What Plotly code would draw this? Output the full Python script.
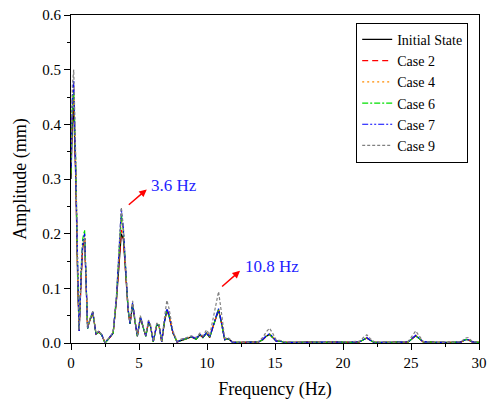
import plotly.graph_objects as go

freq = [0.0, 0.1, 0.2, 0.35, 0.5, 0.6, 0.75, 0.86, 1.0, 1.1, 1.22, 1.4, 1.6, 1.84, 2.05, 2.25, 2.5, 2.85,
        3.1, 3.35, 3.55, 3.7, 3.85, 4.0, 4.2, 4.34, 4.53, 4.7, 4.88, 5.1, 5.3, 5.5, 5.7, 5.85, 6.05, 6.3,
        6.47, 6.67, 6.85, 7.05, 7.2, 7.5, 7.8, 8.1, 8.5, 8.85, 9.2, 9.48, 9.7, 9.97, 10.2, 10.45, 10.65,
        10.85, 11.05, 11.3, 11.55, 11.9, 12.5, 13.2, 13.8, 14.1, 14.35, 14.6, 14.85, 15.1, 15.35, 15.7,
        16.5, 17.5, 18.5, 19.5, 20.5, 21.2, 21.5, 21.75, 22.0, 22.3, 23.0, 24.0, 24.8, 25.1, 25.35, 25.6,
        25.9, 26.3, 27.0, 28.0, 28.7, 29.0, 29.2, 29.5, 30.0]

initial_state = [0.30, 0.40, 0.43, 0.30, 0.10, 0.022, 0.12, 0.175, 0.19, 0.12, 0.028, 0.042, 0.055, 0.016,
                 0.020, 0.015, 0.000, 0.010, 0.018, 0.080, 0.160, 0.200, 0.190, 0.130, 0.060, 0.035, 0.070,
                 0.040, 0.012, 0.046, 0.030, 0.012, 0.038, 0.030, 0.002, 0.032, 0.032, 0.002, 0.035, 0.060,
                 0.050, 0.018, 0.002, 0.005, 0.008, 0.011, 0.007, 0.015, 0.010, 0.018, 0.010, 0.030, 0.045,
                 0.060, 0.038, 0.006, 0.008, 0.001, 0.001, 0.001, 0.002, 0.006, 0.012, 0.016, 0.010, 0.003,
                 0.004, 0.001, 0.001, 0.002, 0.001, 0.002, 0.001, 0.002, 0.006, 0.009, 0.005, 0.001, 0.001,
                 0.001, 0.002, 0.008, 0.013, 0.008, 0.002, 0.002, 0.001, 0.001, 0.002, 0.006, 0.006, 0.002,
                 0.001]

case2 = [0.31, 0.42, 0.45, 0.31, 0.11, 0.024, 0.12, 0.178, 0.192, 0.12, 0.027, 0.043, 0.056, 0.017,
         0.021, 0.015, 0.001, 0.010, 0.019, 0.082, 0.165, 0.207, 0.192, 0.132, 0.061, 0.036, 0.071,
         0.041, 0.013, 0.047, 0.031, 0.013, 0.039, 0.031, 0.003, 0.033, 0.033, 0.002, 0.036, 0.061,
         0.051, 0.018, 0.002, 0.005, 0.008, 0.011, 0.008, 0.015, 0.011, 0.018, 0.011, 0.031, 0.046,
         0.061, 0.039, 0.006, 0.008, 0.001, 0.001, 0.001, 0.002, 0.006, 0.012, 0.016, 0.010, 0.003,
         0.004, 0.001, 0.001, 0.002, 0.001, 0.002, 0.001, 0.002, 0.006, 0.009, 0.005, 0.001, 0.001,
         0.001, 0.002, 0.008, 0.013, 0.008, 0.002, 0.002, 0.001, 0.001, 0.002, 0.006, 0.006, 0.002,
         0.001]

case4 = [0.32, 0.44, 0.47, 0.32, 0.11, 0.023, 0.13, 0.180, 0.195, 0.12, 0.028, 0.044, 0.058, 0.017,
         0.021, 0.016, 0.001, 0.011, 0.019, 0.085, 0.172, 0.230, 0.200, 0.135, 0.062, 0.036, 0.073,
         0.042, 0.013, 0.048, 0.031, 0.013, 0.040, 0.031, 0.002, 0.034, 0.034, 0.002, 0.037, 0.063,
         0.052, 0.019, 0.002, 0.006, 0.009, 0.012, 0.008, 0.016, 0.011, 0.019, 0.011, 0.032, 0.047,
         0.062, 0.039, 0.006, 0.008, 0.001, 0.001, 0.001, 0.002, 0.007, 0.013, 0.017, 0.011, 0.003,
         0.004, 0.001, 0.001, 0.002, 0.001, 0.002, 0.001, 0.002, 0.006, 0.010, 0.005, 0.001, 0.001,
         0.001, 0.002, 0.009, 0.014, 0.009, 0.002, 0.002, 0.001, 0.001, 0.002, 0.006, 0.006, 0.002,
         0.001]

case6 = [0.31, 0.43, 0.46, 0.33, 0.12, 0.025, 0.14, 0.190, 0.207, 0.13, 0.026, 0.043, 0.057, 0.016,
         0.020, 0.015, 0.000, 0.010, 0.018, 0.086, 0.175, 0.235, 0.205, 0.136, 0.061, 0.035, 0.072,
         0.041, 0.012, 0.047, 0.030, 0.012, 0.039, 0.030, 0.002, 0.033, 0.033, 0.002, 0.036, 0.062,
         0.051, 0.018, 0.002, 0.005, 0.008, 0.011, 0.007, 0.015, 0.010, 0.018, 0.010, 0.031, 0.046,
         0.062, 0.038, 0.006, 0.008, 0.001, 0.001, 0.001, 0.002, 0.006, 0.012, 0.016, 0.010, 0.003,
         0.004, 0.001, 0.001, 0.002, 0.001, 0.002, 0.001, 0.002, 0.006, 0.009, 0.005, 0.001, 0.001,
         0.001, 0.002, 0.008, 0.013, 0.008, 0.002, 0.002, 0.001, 0.001, 0.002, 0.006, 0.006, 0.002,
         0.001]

case7 = [0.32, 0.45, 0.48, 0.32, 0.11, 0.022, 0.13, 0.182, 0.200, 0.12, 0.027, 0.044, 0.057, 0.017,
         0.021, 0.016, 0.001, 0.011, 0.019, 0.088, 0.180, 0.245, 0.210, 0.138, 0.062, 0.036, 0.074,
         0.042, 0.013, 0.048, 0.031, 0.013, 0.040, 0.031, 0.002, 0.034, 0.034, 0.002, 0.037, 0.063,
         0.052, 0.019, 0.002, 0.006, 0.009, 0.012, 0.008, 0.016, 0.011, 0.019, 0.011, 0.032, 0.047,
         0.063, 0.039, 0.006, 0.008, 0.001, 0.001, 0.001, 0.002, 0.007, 0.013, 0.017, 0.011, 0.003,
         0.004, 0.001, 0.001, 0.002, 0.001, 0.002, 0.001, 0.002, 0.006, 0.010, 0.005, 0.001, 0.001,
         0.001, 0.002, 0.009, 0.014, 0.009, 0.002, 0.002, 0.001, 0.001, 0.002, 0.006, 0.006, 0.002,
         0.001]

case9 = [0.33, 0.47, 0.50, 0.34, 0.12, 0.024, 0.13, 0.180, 0.192, 0.12, 0.028, 0.045, 0.058, 0.018,
         0.022, 0.016, 0.001, 0.011, 0.020, 0.090, 0.182, 0.248, 0.212, 0.140, 0.064, 0.038, 0.077,
         0.044, 0.014, 0.050, 0.033, 0.014, 0.042, 0.033, 0.003, 0.036, 0.036, 0.003, 0.042, 0.078,
         0.064, 0.022, 0.003, 0.007, 0.010, 0.013, 0.010, 0.018, 0.013, 0.024, 0.014, 0.045, 0.072,
         0.094, 0.058, 0.009, 0.010, 0.002, 0.001, 0.001, 0.003, 0.010, 0.020, 0.027, 0.017, 0.005,
         0.005, 0.002, 0.001, 0.002, 0.001, 0.002, 0.002, 0.003, 0.010, 0.015, 0.008, 0.002, 0.001,
         0.001, 0.003, 0.013, 0.022, 0.013, 0.003, 0.002, 0.001, 0.001, 0.003, 0.009, 0.010, 0.003,
         0.001]

series_names = ["Initial State", "Case 2", "Case 4", "Case 6", "Case 7", "Case 9"]
series_values = [initial_state, case2, case4, case6, case7, case9]
series_colors = ["#000000", "#ff0000", "#ff8c00", "#00e000", "#0000ff", "#808080"]
series_dash = ["solid", "6px,4px", "2px,3px", "6px,2px,2px,2px", "6px,2px,2px,2px,2px,2px", "3px,2px"]

x_ticks = [0, 5, 10, 15, 20, 25, 30]
y_ticks = [0.0, 0.1, 0.2, 0.3, 0.4, 0.5, 0.6]

FONT = "'Liberation Serif', 'DejaVu Serif', serif"

fig = go.Figure()
for name, vals, col, dash in zip(series_names, series_values, series_colors, series_dash):
    fig.add_trace(go.Scatter(x=freq, y=vals, mode="lines", name=name,
                             line=dict(color=col, width=1.2, dash=dash)))

fig.add_annotation(x=5.57, y=0.281, ax=4.14, ay=0.2506, xref="x", yref="y", axref="x", ayref="y",
                   text="", showarrow=True, arrowhead=2, arrowsize=1, arrowwidth=1.5, arrowcolor="#ff0000")
fig.add_annotation(x=5.76, y=0.289, xref="x", yref="y", text="3.6 Hz", showarrow=False,
                   xanchor="left", yanchor="middle", font=dict(family=FONT, size=17, color="#1f1fff"))
fig.add_annotation(x=12.43, y=0.132, ax=11.0, ay=0.101, xref="x", yref="y", axref="x", ayref="y",
                   text="", showarrow=True, arrowhead=2, arrowsize=1, arrowwidth=1.5, arrowcolor="#ff0000")
fig.add_annotation(x=12.62, y=0.1396, xref="x", yref="y", text="10.8 Hz", showarrow=False,
                   xanchor="left", yanchor="middle", font=dict(family=FONT, size=17, color="#1f1fff"))

fig.update_layout(
    width=489, height=401,
    margin=dict(l=71, r=10, t=15, b=58, autoexpand=False),
    paper_bgcolor="white", plot_bgcolor="white",
    font=dict(family=FONT, size=14, color="#000000"),
    showlegend=True,
    legend=dict(x=0.699, y=0.976, xanchor="left", yanchor="top",
                bgcolor="white", bordercolor="#000000", borderwidth=1,
                font=dict(family=FONT, size=14), tracegroupgap=0,
                itemwidth=30),
)
fig.update_xaxes(range=[0, 30], tickvals=x_ticks, ticktext=[str(v) for v in x_ticks], automargin=False,
                 showgrid=False, zeroline=False, showline=True, linecolor="#000000", linewidth=1,
                 mirror=True, ticks="outside", ticklen=6, tickcolor="#000000",
                 minor=dict(ticks="outside", ticklen=3, dtick=2.5, tick0=0, tickcolor="#000000"),
                 title=dict(text="Frequency (Hz)", font=dict(family=FONT, size=18), standoff=12),
                 tickfont=dict(family=FONT, size=15))
fig.update_yaxes(range=[0, 0.6], tickvals=y_ticks, ticktext=[f"{v:.1f}" for v in y_ticks], automargin=False,
                 showgrid=False, zeroline=False, showline=True, linecolor="#000000", linewidth=1,
                 mirror=True, ticks="outside", ticklen=6, tickcolor="#000000",
                 minor=dict(ticks="outside", ticklen=3, dtick=0.05, tick0=0, tickcolor="#000000"),
                 title=dict(text="Amplitude (mm)", font=dict(family=FONT, size=18), standoff=10),
                 tickfont=dict(family=FONT, size=15))

fig.write_html("out.html", post_script="document.body.style.margin='0';document.body.style.padding='0';",
               config={"displayModeBar": False})
